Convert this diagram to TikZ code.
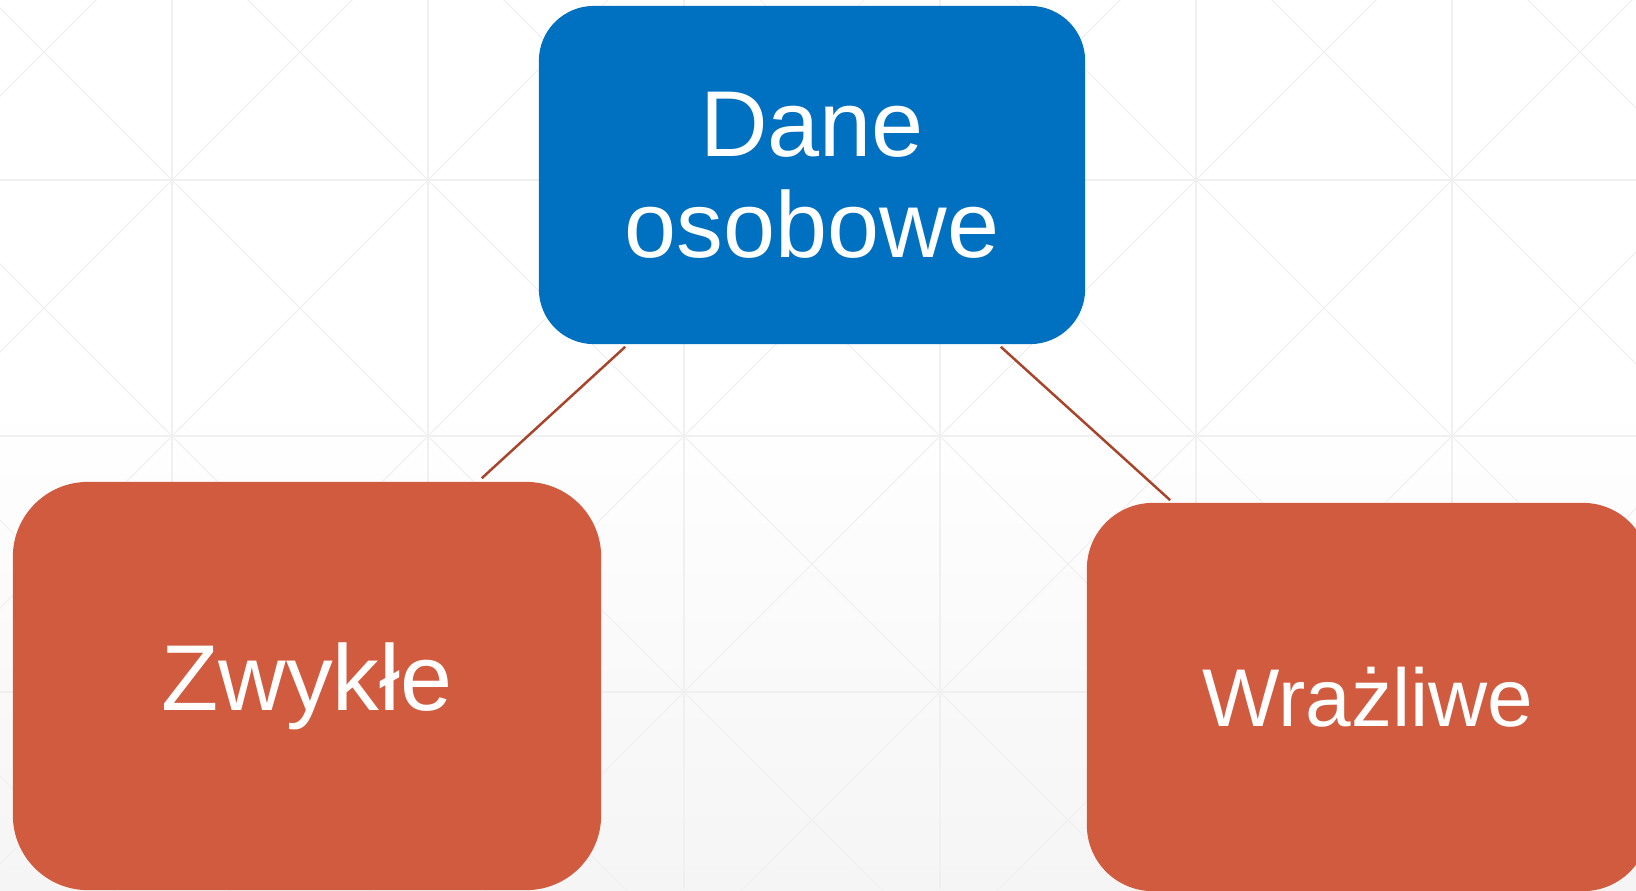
\documentclass[tikz,border=0pt]{standalone}
\usepackage{fontspec}
\setmainfont{Liberation Sans}
\usepackage{xcolor}
\definecolor{daneblue}{HTML}{0070C0}
\definecolor{rodorange}{HTML}{D15B3F}
\definecolor{linkred}{HTML}{A8442A}
\definecolor{gridgray}{HTML}{F0F0F0}
\definecolor{bggray}{HTML}{F5F5F5}

\begin{document}
\begin{tikzpicture}[x=0.01cm,y=-0.01cm,
    every node/.style={rectangle,inner sep=0pt,align=center,text=white},
    grid/.style={gridgray,line width=0.3pt}]
                \useasboundingbox (0,0) rectangle (1636,890);
                \clip (0,0) rectangle (1636,890);
                \fill[white] (0,0) rectangle (1636,400);
                \shade[top color=white,bottom color=bggray] (0,400) rectangle (1636,890);

                \foreach \i in {-1,...,6}{
                    \draw[grid] (172+256*\i,0) -- (172+256*\i,890);
                }
                \foreach \i in {-1,...,4}{
                    \draw[grid] (0,180+256*\i) -- (1636,180+256*\i);
                }
                \foreach \i [evaluate={\c=-8+256*\i; \d=352+256*\i;}] in {-4,...,9}{
                    \draw[grid] (\c-100,-100) -- (\c+1000,1000);
                    \draw[grid] (\d+100,-100) -- (\d-1000,1000);
                }

                \node[fill=daneblue,rounded corners=0.55cm,minimum width=5.46cm,minimum height=3.38cm,
                      font=\fontsize{26.6}{28.7}\selectfont] (dane) at (812,175) {Dane\\osobowe};
                \node[fill=rodorange,rounded corners=0.75cm,minimum width=5.88cm,minimum height=4.08cm,
                      font=\fontsize{26.6}{28.7}\selectfont] (zwykle) at (307,686) {\raisebox{-0.06cm}{Zwykłe}};
                \node[fill=rodorange,rounded corners=0.66cm,minimum width=5.62cm,minimum height=3.88cm,
                      font=\fontsize{23.3}{26}\selectfont] (wrazliwe) at (1368,697) {Wrażliwe};

                \draw[linkred,line width=0.7pt] ([xshift=0.87cm,yshift=-0.02cm]dane.south west) -- ([xshift=-1.2cm,yshift=0.03cm]zwykle.north east);
                \draw[linkred,line width=0.7pt] ([xshift=-0.85cm,yshift=-0.02cm]dane.south east) -- ([xshift=0.84cm,yshift=0.02cm]wrazliwe.north west);
            \end{tikzpicture}
\end{document}
